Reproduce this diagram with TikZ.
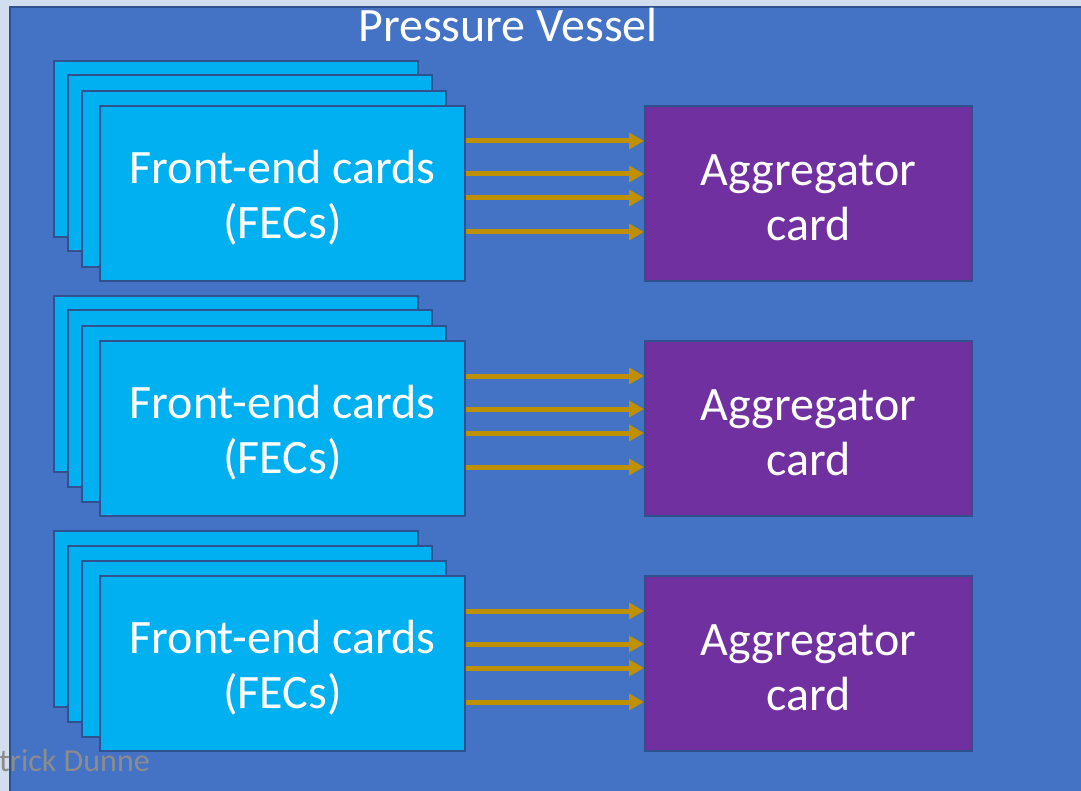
\documentclass[tikz,border=0pt]{standalone}
\usepackage{fontspec}
\setmainfont{Carlito}
\usetikzlibrary{arrows.meta}
\definecolor{outerbg}{HTML}{D0DEEF}
\definecolor{vessel}{HTML}{4472C4}
\definecolor{edge}{HTML}{2F528F}
\definecolor{fec}{HTML}{00B0F0}
\definecolor{agg}{HTML}{7030A0}
\definecolor{gold}{HTML}{BF9000}
\definecolor{credit}{HTML}{8C8C8C}
\tikzset{
  x=1pt,y=-1pt,
  boxtext/.style={text=white,align=center,font=\fontsize{48}{55}\selectfont,yshift=-4pt},
  card/.style={draw=edge,line width=2pt,fill=fec,minimum width=365pt,minimum height=175pt,inner sep=0pt},
  backcard/.style={draw=edge,line width=2pt,fill=fec,minimum width=364pt,minimum height=176pt,inner sep=0pt},
  aggbox/.style={draw=edge,line width=2pt,fill=agg,minimum width=327pt,minimum height=175pt,inner sep=0pt},
  link/.style={draw=gold,line width=5pt,-{Triangle[length=15pt,width=16pt]}}
}
\begin{document}
\begin{tikzpicture}
\useasboundingbox (0,0) rectangle (1081,791);
\fill[outerbg] (0,0) rectangle (1081,791);
\draw[edge,line width=2pt,fill=vessel] (10,7) rectangle (1095,805);
\node[text=white,font=\fontsize{48}{56}\selectfont,anchor=base] (title) at (508,42) {Pressure Vessel};
\foreach \i/\dy in {1/0,2/235,3/470}{
  \node[backcard] (b\i a) at (235.5,149+\dy) {};
  \node[backcard] (b\i b) at (249.5,163.5+\dy) {};
  \node[backcard] (b\i c) at (264,179+\dy) {};
  \node[card,label={[boxtext]center:{Front-end cards\\(FECs)}}] (f\i) at (282.5,193.5+\dy) {};
  \node[aggbox,label={[boxtext]center:{Aggregator\\card}}] (a\i) at (808.5,193.5+\dy) {};
  \foreach \yy in {141,174,198,232}{
    \draw[link] (f\i.east |- 0,\yy+\dy) -- (a\i.west |- 0,\yy+\dy);
  }
}
\node[text=credit,font=\fontsize{32}{36}\selectfont,anchor=base west,inner sep=0pt] (credit) at (-1,771) {trick Dunne};
\end{tikzpicture}
\end{document}
